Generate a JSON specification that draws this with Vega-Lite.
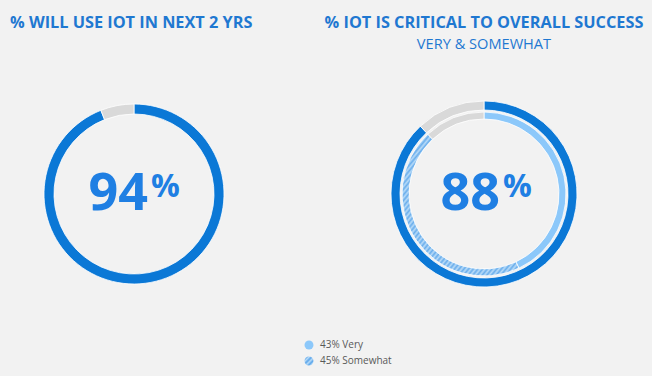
{
  "$schema": "https://vega.github.io/schema/vega-lite/v6.json",
  "background": "#f2f2f2",
  "padding": {"top": 15, "bottom": 7, "left": 0, "right": 8},
  "spacing": 11,
  "config": {
    "view": {"stroke": null},
    "title": {"font": "Open Sans", "fontSize": 16.3, "fontWeight": "bold", "color": "#1f78d1", "subtitleFont": "Open Sans", "subtitleFontSize": 14.6, "subtitleColor": "#1f78d1", "subtitlePadding": 6, "offset": 10}
  },
  "vconcat": [
    {
      "spacing": 56,
      "hconcat": [
        {
          "width": 268,
          "height": 264,
          "title": {"text": "% WILL USE IOT IN NEXT 2 YRS", "subtitle": " ", "anchor": "start", "dx": 10},
          "layer": [
            {
              "data": {"values": [{"segment": "Will use", "pct": 94, "rank": 1}, {"segment": "Rest", "pct": 6, "rank": 2}]},
              "mark": {"type": "arc", "outerRadius": 90, "innerRadius": 80, "stroke": "#ffffff", "strokeWidth": 0.8},
              "encoding": {
                "theta": {"field": "pct", "type": "quantitative", "stack": true},
                "order": {"field": "rank", "type": "quantitative"},
                "fill": {"condition": {"test": "datum.segment === 'Rest'", "value": "#d9d9d9"}, "value": "#0b78d6"}
              }
            },
            {
              "data": {"values": [{"number": "94", "unit": "%"}]},
              "mark": {"type": "text", "font": "Open Sans", "fontWeight": "bold", "fontSize": 52, "color": "#1f7fe3", "align": "right", "baseline": "alphabetic", "dx": 14, "dy": 16},
              "encoding": {"text": {"field": "number"}}
            },
            {
              "data": {"values": [{"number": "94", "unit": "%"}]},
              "mark": {"type": "text", "font": "Open Sans", "fontWeight": "bold", "fontSize": 32, "color": "#1f7fe3", "align": "left", "baseline": "alphabetic", "dx": 17, "dy": 3},
              "encoding": {"text": {"field": "unit"}}
            }
          ]
        },
        {
          "width": 320,
          "height": 264,
          "title": {"text": "% IOT IS CRITICAL TO OVERALL SUCCESS", "subtitle": "VERY & SOMEWHAT", "anchor": "middle"},
          "layer": [
            {
              "data": {"values": [{"segment": "Very & Somewhat", "pct": 88, "rank": 1}, {"segment": "Rest", "pct": 12, "rank": 2}]},
              "mark": {"type": "arc", "outerRadius": 93, "innerRadius": 84, "stroke": "#ffffff", "strokeWidth": 0.8},
              "encoding": {
                "theta": {"field": "pct", "type": "quantitative", "stack": true},
                "order": {"field": "rank", "type": "quantitative"},
                "fill": {"condition": {"test": "datum.segment === 'Rest'", "value": "#d9d9d9"}, "value": "#0b78d6"}
              }
            },
            {
              "data": {"values": [{"segment": "Very", "pct": 43, "rank": 1}, {"segment": "Somewhat", "pct": 45, "rank": 2}, {"segment": "Rest", "pct": 12, "rank": 3}]},
              "mark": {"type": "arc", "outerRadius": 82, "innerRadius": 75, "stroke": "#ffffff", "strokeWidth": 0.8},
              "encoding": {
                "theta": {"field": "pct", "type": "quantitative", "stack": true},
                "order": {"field": "rank", "type": "quantitative"},
                "fill": {
                  "condition": [
                    {"test": "datum.segment === 'Very'", "value": "#8cc8fa"},
                    {"test": "datum.segment === 'Somewhat'", "value": {"gradient": "linear", "x1": 0, "y1": 0, "x2": 1, "y2": 1, "stops": [
                      {"offset": 0, "color": "#6aaeec"}, {"offset": 0.01, "color": "#b8dbf8"}, {"offset": 0.02, "color": "#6aaeec"}, {"offset": 0.03, "color": "#b8dbf8"}, {"offset": 0.04, "color": "#6aaeec"}, {"offset": 0.05, "color": "#b8dbf8"}, {"offset": 0.06, "color": "#6aaeec"}, {"offset": 0.07, "color": "#b8dbf8"}, {"offset": 0.08, "color": "#6aaeec"}, {"offset": 0.09, "color": "#b8dbf8"},
                      {"offset": 0.1, "color": "#6aaeec"}, {"offset": 0.11, "color": "#b8dbf8"}, {"offset": 0.12, "color": "#6aaeec"}, {"offset": 0.13, "color": "#b8dbf8"}, {"offset": 0.14, "color": "#6aaeec"}, {"offset": 0.15, "color": "#b8dbf8"}, {"offset": 0.16, "color": "#6aaeec"}, {"offset": 0.17, "color": "#b8dbf8"}, {"offset": 0.18, "color": "#6aaeec"}, {"offset": 0.19, "color": "#b8dbf8"},
                      {"offset": 0.2, "color": "#6aaeec"}, {"offset": 0.21, "color": "#b8dbf8"}, {"offset": 0.22, "color": "#6aaeec"}, {"offset": 0.23, "color": "#b8dbf8"}, {"offset": 0.24, "color": "#6aaeec"}, {"offset": 0.25, "color": "#b8dbf8"}, {"offset": 0.26, "color": "#6aaeec"}, {"offset": 0.27, "color": "#b8dbf8"}, {"offset": 0.28, "color": "#6aaeec"}, {"offset": 0.29, "color": "#b8dbf8"},
                      {"offset": 0.3, "color": "#6aaeec"}, {"offset": 0.31, "color": "#b8dbf8"}, {"offset": 0.32, "color": "#6aaeec"}, {"offset": 0.33, "color": "#b8dbf8"}, {"offset": 0.34, "color": "#6aaeec"}, {"offset": 0.35, "color": "#b8dbf8"}, {"offset": 0.36, "color": "#6aaeec"}, {"offset": 0.37, "color": "#b8dbf8"}, {"offset": 0.38, "color": "#6aaeec"}, {"offset": 0.39, "color": "#b8dbf8"},
                      {"offset": 0.4, "color": "#6aaeec"}, {"offset": 0.41, "color": "#b8dbf8"}, {"offset": 0.42, "color": "#6aaeec"}, {"offset": 0.43, "color": "#b8dbf8"}, {"offset": 0.44, "color": "#6aaeec"}, {"offset": 0.45, "color": "#b8dbf8"}, {"offset": 0.46, "color": "#6aaeec"}, {"offset": 0.47, "color": "#b8dbf8"}, {"offset": 0.48, "color": "#6aaeec"}, {"offset": 0.49, "color": "#b8dbf8"},
                      {"offset": 0.5, "color": "#6aaeec"}, {"offset": 0.51, "color": "#b8dbf8"}, {"offset": 0.52, "color": "#6aaeec"}, {"offset": 0.53, "color": "#b8dbf8"}, {"offset": 0.54, "color": "#6aaeec"}, {"offset": 0.55, "color": "#b8dbf8"}, {"offset": 0.56, "color": "#6aaeec"}, {"offset": 0.57, "color": "#b8dbf8"}, {"offset": 0.58, "color": "#6aaeec"}, {"offset": 0.59, "color": "#b8dbf8"},
                      {"offset": 0.6, "color": "#6aaeec"}, {"offset": 0.61, "color": "#b8dbf8"}, {"offset": 0.62, "color": "#6aaeec"}, {"offset": 0.63, "color": "#b8dbf8"}, {"offset": 0.64, "color": "#6aaeec"}, {"offset": 0.65, "color": "#b8dbf8"}, {"offset": 0.66, "color": "#6aaeec"}, {"offset": 0.67, "color": "#b8dbf8"}, {"offset": 0.68, "color": "#6aaeec"}, {"offset": 0.69, "color": "#b8dbf8"},
                      {"offset": 0.7, "color": "#6aaeec"}, {"offset": 0.71, "color": "#b8dbf8"}, {"offset": 0.72, "color": "#6aaeec"}, {"offset": 0.73, "color": "#b8dbf8"}, {"offset": 0.74, "color": "#6aaeec"}, {"offset": 0.75, "color": "#b8dbf8"}, {"offset": 0.76, "color": "#6aaeec"}, {"offset": 0.77, "color": "#b8dbf8"}, {"offset": 0.78, "color": "#6aaeec"}, {"offset": 0.79, "color": "#b8dbf8"},
                      {"offset": 0.8, "color": "#6aaeec"}, {"offset": 0.81, "color": "#b8dbf8"}, {"offset": 0.82, "color": "#6aaeec"}, {"offset": 0.83, "color": "#b8dbf8"}, {"offset": 0.84, "color": "#6aaeec"}, {"offset": 0.85, "color": "#b8dbf8"}, {"offset": 0.86, "color": "#6aaeec"}, {"offset": 0.87, "color": "#b8dbf8"}, {"offset": 0.88, "color": "#6aaeec"}, {"offset": 0.89, "color": "#b8dbf8"},
                      {"offset": 0.9, "color": "#6aaeec"}, {"offset": 0.91, "color": "#b8dbf8"}, {"offset": 0.92, "color": "#6aaeec"}, {"offset": 0.93, "color": "#b8dbf8"}, {"offset": 0.94, "color": "#6aaeec"}, {"offset": 0.95, "color": "#b8dbf8"}, {"offset": 0.96, "color": "#6aaeec"}, {"offset": 0.97, "color": "#b8dbf8"}, {"offset": 0.98, "color": "#6aaeec"}, {"offset": 0.99, "color": "#b8dbf8"},
                      {"offset": 1, "color": "#6aaeec"}
                    ]}}
                  ],
                  "value": "#d9d9d9"
                }
              }
            },
            {
              "data": {"values": [{"number": "88", "unit": "%"}]},
              "mark": {"type": "text", "font": "Open Sans", "fontWeight": "bold", "fontSize": 52, "color": "#1f7fe3", "align": "right", "baseline": "alphabetic", "dx": 16, "dy": 16},
              "encoding": {"text": {"field": "number"}}
            },
            {
              "data": {"values": [{"number": "88", "unit": "%"}]},
              "mark": {"type": "text", "font": "Open Sans", "fontWeight": "bold", "fontSize": 32, "color": "#1f7fe3", "align": "left", "baseline": "alphabetic", "dx": 19, "dy": 3},
              "encoding": {"text": {"field": "unit"}}
            }
          ]
        }
      ]
    },
    {
      "width": 618,
      "height": 32,
      "data": {"values": [{"key": "Very", "label": "43% Very", "pct": 43}, {"key": "Somewhat", "label": "45% Somewhat", "pct": 45}]},
      "encoding": {
        "y": {"field": "key", "type": "nominal", "sort": ["Very", "Somewhat"], "axis": null, "scale": {"type": "point", "padding": 0.5}}
      },
      "layer": [
        {
          "mark": {"type": "point", "filled": true, "size": 80, "opacity": 1},
          "encoding": {
            "fill": {
              "condition": {"test": "datum.key === 'Somewhat'", "value": {"gradient": "linear", "x1": 0, "y1": 0, "x2": 1, "y2": 1, "stops": [
                {"offset": 0, "color": "#b8dbf8"}, {"offset": 0.14, "color": "#5aa5ea"}, {"offset": 0.28, "color": "#b8dbf8"}, {"offset": 0.42, "color": "#5aa5ea"}, {"offset": 0.57, "color": "#b8dbf8"}, {"offset": 0.71, "color": "#5aa5ea"}, {"offset": 0.85, "color": "#b8dbf8"}, {"offset": 1, "color": "#5aa5ea"}
              ]}},
              "value": "#8cc8fa"
            }
          }
        },
        {
          "mark": {"type": "text", "font": "Open Sans", "fontSize": 10, "color": "#595959", "align": "left", "baseline": "middle", "dx": 11},
          "encoding": {"text": {"field": "label"}}
        }
      ]
    }
  ]
}
